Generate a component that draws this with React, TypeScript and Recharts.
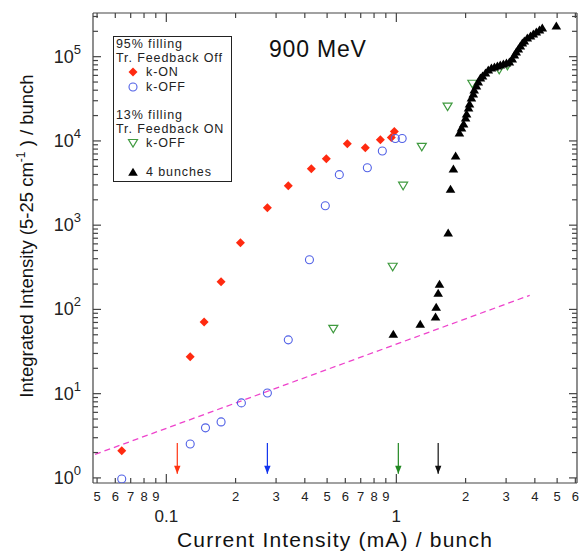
import React from "react";
import { ScatterChart, Scatter, XAxis, YAxis, Legend } from "recharts";

// 95% filling, Tr. feedback off, k-ON
const kOnX = [0.064, 0.127, 0.146, 0.173, 0.21, 0.275, 0.339, 0.427, 0.496, 0.612, 0.733, 0.852, 0.951, 0.98];
const kOnY = [2.1, 27.4, 71, 213, 617, 1610, 2940, 4680, 6150, 9270, 8300, 10300, 10950, 12900];

// 95% filling, Tr. feedback off, k-OFF
const kOffX = [0.064, 0.127, 0.148, 0.173, 0.212, 0.275, 0.339, 0.419, 0.491, 0.565, 0.748, 0.869, 0.99, 1.06];
const kOffY = [0.97, 2.53, 3.93, 4.62, 7.77, 10.2, 43.5, 388, 1700, 3980, 4800, 7600, 10700, 10700];

// 13% filling, Tr. feedback ON, k-OFF
const fb13X = [0.532, 0.964, 1.07, 1.29, 1.67, 2.14, 2.8, 3.04];
const fb13Y = [58.8, 321, 2940, 8500, 25500, 47700, 70000, 78000];

// 4 bunches
const bunchX = [
  0.97, 1.27, 1.48, 1.49, 1.52, 1.54, 1.68, 1.72, 1.77, 1.81,
  1.88, 1.92, 1.96, 2.0, 2.02, 2.06, 2.08, 2.12, 2.16, 2.18, 2.23, 2.27, 2.32, 2.37, 2.44,
  2.51, 2.59, 2.67, 2.75, 2.83, 2.92, 3.01, 3.1,
  3.19, 3.26, 3.32, 3.39, 3.46, 3.53, 3.6, 3.71, 3.83, 3.94, 4.06, 4.19, 4.31, 4.96,
];
const bunchY = [
  51, 67, 82, 107, 157, 201, 812, 2700, 4680, 6670,
  12500, 14400, 16000, 18900, 21000, 24800, 27700, 32600, 36300, 40500, 45200, 50500, 56300, 59500, 64500,
  70100, 74000, 76000, 78200, 80400, 82600, 84900, 87300,
  94700, 105600, 114700, 124400, 135000, 146500, 154900, 168200, 177500, 187600, 198200, 209400, 221000, 233500,
];

// dashed reference line (linear in current)
const fitX = [0.049, 3.8];
const fitY = [1.9, 147];

// threshold arrows
const arrowX = [0.1116, 0.275, 1.02, 1.52];
const arrowColors = ["#ff3311", "#1133ee", "#228822", "#111111"];
const arrowTop = 2.6;
const arrowTip = 1.12;

const xTicks = [0.05, 0.06, 0.07, 0.08, 0.09, 0.1, 0.2, 0.3, 0.4, 0.5, 0.6, 0.7, 0.8, 0.9, 1, 2, 3, 4, 5, 6];
const xMajor = [0.1, 1];
const xTickLabels = ["5", "6", "7", "8", "9", "0.1", "2", "3", "4", "5", "6", "7", "8", "9", "1", "2", "3", "4", "5", "6"];

const yMajor = [1, 10, 100, 1000, 10000, 100000];
const yTicks: number[] = [];
yMajor.forEach((d) => {
  [1, 2, 3, 4, 5, 6, 7, 8, 9].forEach((m) => {
    if (m * d <= 300000) yTicks.push(m * d);
  });
});

const pts = (xs: number[], ys: number[]) => xs.map((x, i) => ({ x, y: ys[i] }));

const FONT = "'Liberation Sans', Arial, Helvetica, sans-serif";
const AXIS = "#444";
const RED = "#ff2a10";
const BLUE = "#5060e6";
const GREEN = "#3f9a3f";
const MAGENTA = "#ee44cc";

const Diamond = (p: any) => (
  <polygon points={`${p.cx},${p.cy - 4.5} ${p.cx + 4.5},${p.cy} ${p.cx},${p.cy + 4.5} ${p.cx - 4.5},${p.cy}`} fill={RED} />
);
const Ring = (p: any) => <circle cx={p.cx} cy={p.cy} r={4} fill="none" stroke={BLUE} strokeWidth={1.1} />;
const TriDown = (p: any) => (
  <polygon points={`${p.cx - 4.5},${p.cy - 3.5} ${p.cx + 4.5},${p.cy - 3.5} ${p.cx},${p.cy + 4}`} fill="none" stroke={GREEN} strokeWidth={1.2} />
);
const TriUp = (p: any) => (
  <polygon points={`${p.cx - 4.8},${p.cy + 3.8} ${p.cx + 4.8},${p.cy + 3.8} ${p.cx},${p.cy - 4.2}`} fill="#000" />
);

const isMajorY = (v: number) => yMajor.some((m) => Math.abs(m - v) / m < 1e-6);
const isMajorX = (v: number) => xMajor.some((m) => Math.abs(m - v) / m < 1e-6);

const BottomTick = (p: any) => {
  const v = p.payload.value;
  const i = xTicks.findIndex((t) => Math.abs(t - v) / t < 1e-6);
  const major = isMajorX(v);
  return (
    <g>
      <line x1={p.x} x2={p.x} y1={p.y} y2={p.y - (major ? 9 : 5)} stroke={AXIS} strokeWidth={1.2} />
      {major ? (
        <text x={p.x} y={p.y + 39} textAnchor="middle" fontSize={17} fill="#222" fontFamily={FONT}>
          {xTickLabels[i]}
        </text>
      ) : (
        <text x={p.x} y={p.y + 18} textAnchor="middle" fontSize={13} fill="#222" fontFamily={FONT}>
          {xTickLabels[i]}
        </text>
      )}
    </g>
  );
};

const TopTick = (p: any) => {
  const major = isMajorX(p.payload.value);
  return <line x1={p.x} x2={p.x} y1={p.y} y2={p.y + (major ? 9 : 5)} stroke={AXIS} strokeWidth={1.2} />;
};

const LeftTick = (p: any) => {
  const v = p.payload.value;
  const major = isMajorY(v);
  return (
    <g>
      <line x1={p.x} x2={p.x + (major ? 8 : 5)} y1={p.y} y2={p.y} stroke={AXIS} strokeWidth={1.2} />
      {major && (
        <text x={p.x - 12} y={p.y + 6} textAnchor="end" fill="#222" fontFamily={FONT}>
          <tspan fontSize={18}>10</tspan>
          <tspan fontSize={13} dy={-9}>{Math.round(Math.log10(v))}</tspan>
        </text>
      )}
    </g>
  );
};

const RightTick = (p: any) => {
  const major = isMajorY(p.payload.value);
  return <line x1={p.x} x2={p.x - (major ? 8 : 5)} y1={p.y} y2={p.y} stroke={AXIS} strokeWidth={1.2} />;
};

const ArrowHead = (color: string) => (p: any) =>
  p.payload.y === arrowTip ? (
    <polygon points={`${p.cx - 3.2},${p.cy - 8} ${p.cx + 3.2},${p.cy - 8} ${p.cx},${p.cy}`} fill={color} />
  ) : (
    <g />
  );

const legendText = (top: number, left: number, text: string) => (
  <span
    style={{ position: "absolute", top: top - 6, left, lineHeight: "12px", whiteSpace: "nowrap", letterSpacing: 0.9 }}
  >
    {text}
  </span>
);

const legendMark = (top: number, children: React.ReactNode) => (
  <svg width={12} height={12} style={{ position: "absolute", left: 13, top: top - 6 }}>
    {children}
  </svg>
);

const LegendBox = () => (
  <div
    style={{
      position: "relative",
      width: 119,
      height: 146,
      border: "1.5px solid #222",
      boxSizing: "border-box",
      background: "#fff",
      fontFamily: FONT,
      fontSize: 12.5,
      color: "#222",
    }}
  >
    {legendText(7, 2, "95% filling")}
    {legendText(21, 2, "Tr. Feedback Off")}
    {legendMark(35, <Diamond cx={6} cy={6} />)}
    {legendText(35, 32, "k-ON")}
    {legendMark(50, <Ring cx={6} cy={6} />)}
    {legendText(50, 32, "k-OFF")}
    {legendText(78, 2, "13% filling")}
    {legendText(92, 2, "Tr. Feedback ON")}
    {legendMark(106, <TriDown cx={6} cy={6} />)}
    {legendText(106, 32, "k-OFF")}
    {legendMark(135, <TriUp cx={6} cy={6} />)}
    {legendText(135, 32, "4 bunches")}
  </div>
);

export default function App() {
  return (
    <div style={{ position: "absolute", left: 0, top: 0, background: "#fff" }}>
      <ScatterChart width={581} height={553} margin={{ top: 12, right: 3, left: 0, bottom: 0 }}>
        <XAxis
          xAxisId="b"
          type="number"
          dataKey="x"
          scale="log"
          domain={[0.048, 6.1]}
          allowDataOverflow
          ticks={xTicks}
          interval={0}
          height={70}
          tickSize={0}
          tickMargin={0}
          stroke={AXIS}
          strokeWidth={1.2}
          tick={BottomTick}
          label={{
            content: (lp: any) => (
              <text
                x={lp.viewBox.x + lp.viewBox.width / 2}
                y={lp.viewBox.y + 64}
                textAnchor="middle"
                fontSize={21}
                letterSpacing={1.2}
                fill="#111"
                fontFamily={FONT}
              >
                Current Intensity (mA) / bunch
              </text>
            ),
          }}
        />
        <XAxis
          xAxisId="t"
          orientation="top"
          type="number"
          dataKey="x"
          scale="log"
          domain={[0.048, 6.1]}
          allowDataOverflow
          ticks={xTicks}
          interval={0}
          height={1}
          tickSize={0}
          tickMargin={0}
          stroke={AXIS}
          strokeWidth={1.2}
          tick={TopTick}
          label={{
            content: (lp: any) => (
              <text x={lp.viewBox.x + 176} y={lp.viewBox.y + 45} fontSize={23} letterSpacing={0.8} fill="#111" fontFamily={FONT}>
                900 MeV
              </text>
            ),
          }}
        />
        <YAxis
          yAxisId="l"
          type="number"
          dataKey="y"
          scale="log"
          domain={[0.87, 330000]}
          allowDataOverflow
          ticks={yTicks}
          interval={0}
          width={93}
          tickSize={0}
          tickMargin={0}
          stroke={AXIS}
          strokeWidth={1.2}
          tick={LeftTick}
          label={{
            content: () => (
              <text x={33} y={236} transform="rotate(-90, 33, 236)" textAnchor="middle" fontSize={18.5} fill="#111" fontFamily={FONT}>
                Integrated Intensity (5-25 cm
                <tspan fontSize={12} dy={-8}>-1</tspan>
                <tspan dy={8}> ) / bunch</tspan>
              </text>
            ),
          }}
        />
        <YAxis
          yAxisId="r"
          orientation="right"
          type="number"
          dataKey="y"
          scale="log"
          domain={[0.87, 330000]}
          allowDataOverflow
          ticks={yTicks}
          interval={0}
          width={1}
          tickSize={0}
          tickMargin={0}
          stroke={AXIS}
          strokeWidth={1.2}
          tick={RightTick}
        />

        <Scatter xAxisId="t" yAxisId="r" data={[]} shape={() => <g />} isAnimationActive={false} />
        <Scatter
          xAxisId="b"
          yAxisId="l"
          data={pts(fitX, fitY)}
          line={{ stroke: MAGENTA, strokeWidth: 1.3, strokeDasharray: "6 4" }}
          shape={() => <g />}
          isAnimationActive={false}
        />
        {arrowX.map((ax, i) => (
          <Scatter
            key={`arrow-${i}`}
            xAxisId="b"
            yAxisId="l"
            data={[{ x: ax, y: arrowTop }, { x: ax, y: arrowTip }]}
            line={{ stroke: arrowColors[i], strokeWidth: 1.2 }}
            shape={ArrowHead(arrowColors[i])}
            isAnimationActive={false}
          />
        ))}
        <Scatter xAxisId="b" yAxisId="l" name="k-ON" data={pts(kOnX, kOnY)} shape={Diamond} isAnimationActive={false} />
        <Scatter xAxisId="b" yAxisId="l" name="k-OFF" data={pts(kOffX, kOffY)} shape={Ring} isAnimationActive={false} />
        <Scatter xAxisId="b" yAxisId="l" name="13% k-OFF" data={pts(fb13X, fb13Y)} shape={TriDown} isAnimationActive={false} />
        <Scatter xAxisId="b" yAxisId="l" name="4 bunches" data={pts(bunchX, bunchY)} shape={TriUp} isAnimationActive={false} />

        <Legend
          layout="vertical"
          align="center"
          verticalAlign="middle"
          wrapperStyle={{ left: 113, top: 36, width: 119, height: 146 }}
          content={() => <LegendBox />}
        />
      </ScatterChart>
    </div>
  );
}
